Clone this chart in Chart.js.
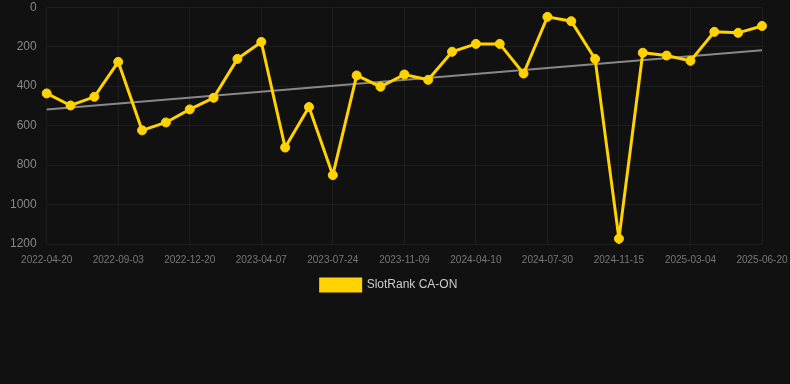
<!DOCTYPE html>
<html>
<head>
<meta charset="utf-8">
<script src="https://cdn.jsdelivr.net/npm/chart.js@4"></script>
<style>
  html, body { margin: 0; padding: 0; background: #111111; }
  #wrap { position: relative; width: 790px; height: 301px; }
</style>
</head>
<body>
<div id="wrap"><canvas id="c"></canvas></div>
<script>
const dates = [
  '2022-04-20','2022-05-15','2022-07-02','2022-09-03','2022-10-08','2022-11-14',
  '2022-12-20','2023-01-25','2023-03-02','2023-04-07','2023-05-12','2023-06-18',
  '2023-07-24','2023-08-29','2023-10-04','2023-11-09','2023-12-20','2024-02-28',
  '2024-04-10','2024-05-15','2024-06-22','2024-07-30','2024-09-04','2024-10-10',
  '2024-11-15','2024-12-20','2025-01-27','2025-03-04','2025-04-09','2025-05-15',
  '2025-06-20'
];
const rankValues = [
  437, 498, 454, 277, 624, 584, 518, 459, 262, 176, 711,
  506, 851, 346, 403, 341, 368, 226, 186, 186, 336,
  49, 71, 262, 1173, 231, 245, 272, 125, 130, 95
];
const trendStart = 519;
const trendEnd = 218;
const yTicks = [0, 200, 400, 600, 800, 1000, 1200];
const seriesName = 'SlotRank CA-ON';

const trendData = dates.map((d, i) => i === 0 ? trendStart : (i === dates.length - 1 ? trendEnd : null));

const legendShift = {
  id: 'legendShift',
  afterLayout(chart) {
    if (chart.legend) { chart.legend.left += 3; chart.legend.right += 3; }
  }
};

new Chart(document.getElementById('c'), {
  type: 'line',
  plugins: [legendShift],
  data: {
    labels: dates,
    datasets: [
      {
        label: seriesName,
        data: rankValues,
        borderColor: '#ffd200',
        backgroundColor: '#ffd200',
        borderWidth: 3,
        pointRadius: 4.5,
        pointBorderWidth: 1,
        pointBackgroundColor: '#ffd200',
        pointBorderColor: '#ffd200',
        tension: 0,
        order: 1
      },
      {
        label: 'trend',
        data: trendData,
        borderColor: 'rgba(150,150,150,0.9)',
        borderWidth: 2,
        pointRadius: 0,
        spanGaps: true,
        fill: false,
        order: 2
      }
    ]
  },
  options: {
    responsive: true,
    maintainAspectRatio: false,
    animation: false,
    layout: { padding: { left: 10, right: 28, top: 0, bottom: 0 } },
    plugins: {
      legend: {
        position: 'bottom',
        labels: {
          color: '#cccccc',
          boxWidth: 40,
          boxHeight: 12,
          font: { size: 12, family: 'Arial, Helvetica, sans-serif' },
          filter: (item) => item.text !== 'trend'
        }
      },
      tooltip: { enabled: false }
    },
    scales: {
      x: {
        grid: { color: 'rgba(255,255,255,0.05)', drawTicks: true, tickLength: 10, tickColor: 'rgba(0,0,0,0)' },
        border: { display: false },
        afterFit: (axis) => { axis.height += 3; },
        ticks: {
          color: '#777777',
          font: { size: 10, family: 'Arial, Helvetica, sans-serif' },
          padding: 0,
          maxRotation: 0,
          autoSkip: false,
          callback: function(v, i) { return i % 3 === 0 ? dates[i] : null; }
        }
      },
      y: {
        reverse: true,
        min: yTicks[0],
        max: yTicks[yTicks.length - 1],
        grid: { color: 'rgba(255,255,255,0.05)', drawTicks: true, tickLength: 10, tickColor: 'rgba(0,0,0,0)' },
        border: { display: false },
        afterBuildTicks: (axis) => { axis.ticks = yTicks.map(v => ({ value: v })); },
        ticks: {
          color: '#888888',
          font: { size: 12, family: 'Arial, Helvetica, sans-serif' },
          padding: 0,
          callback: (v) => String(v)
        }
      }
    }
  }
});
</script>
</body>
</html>
